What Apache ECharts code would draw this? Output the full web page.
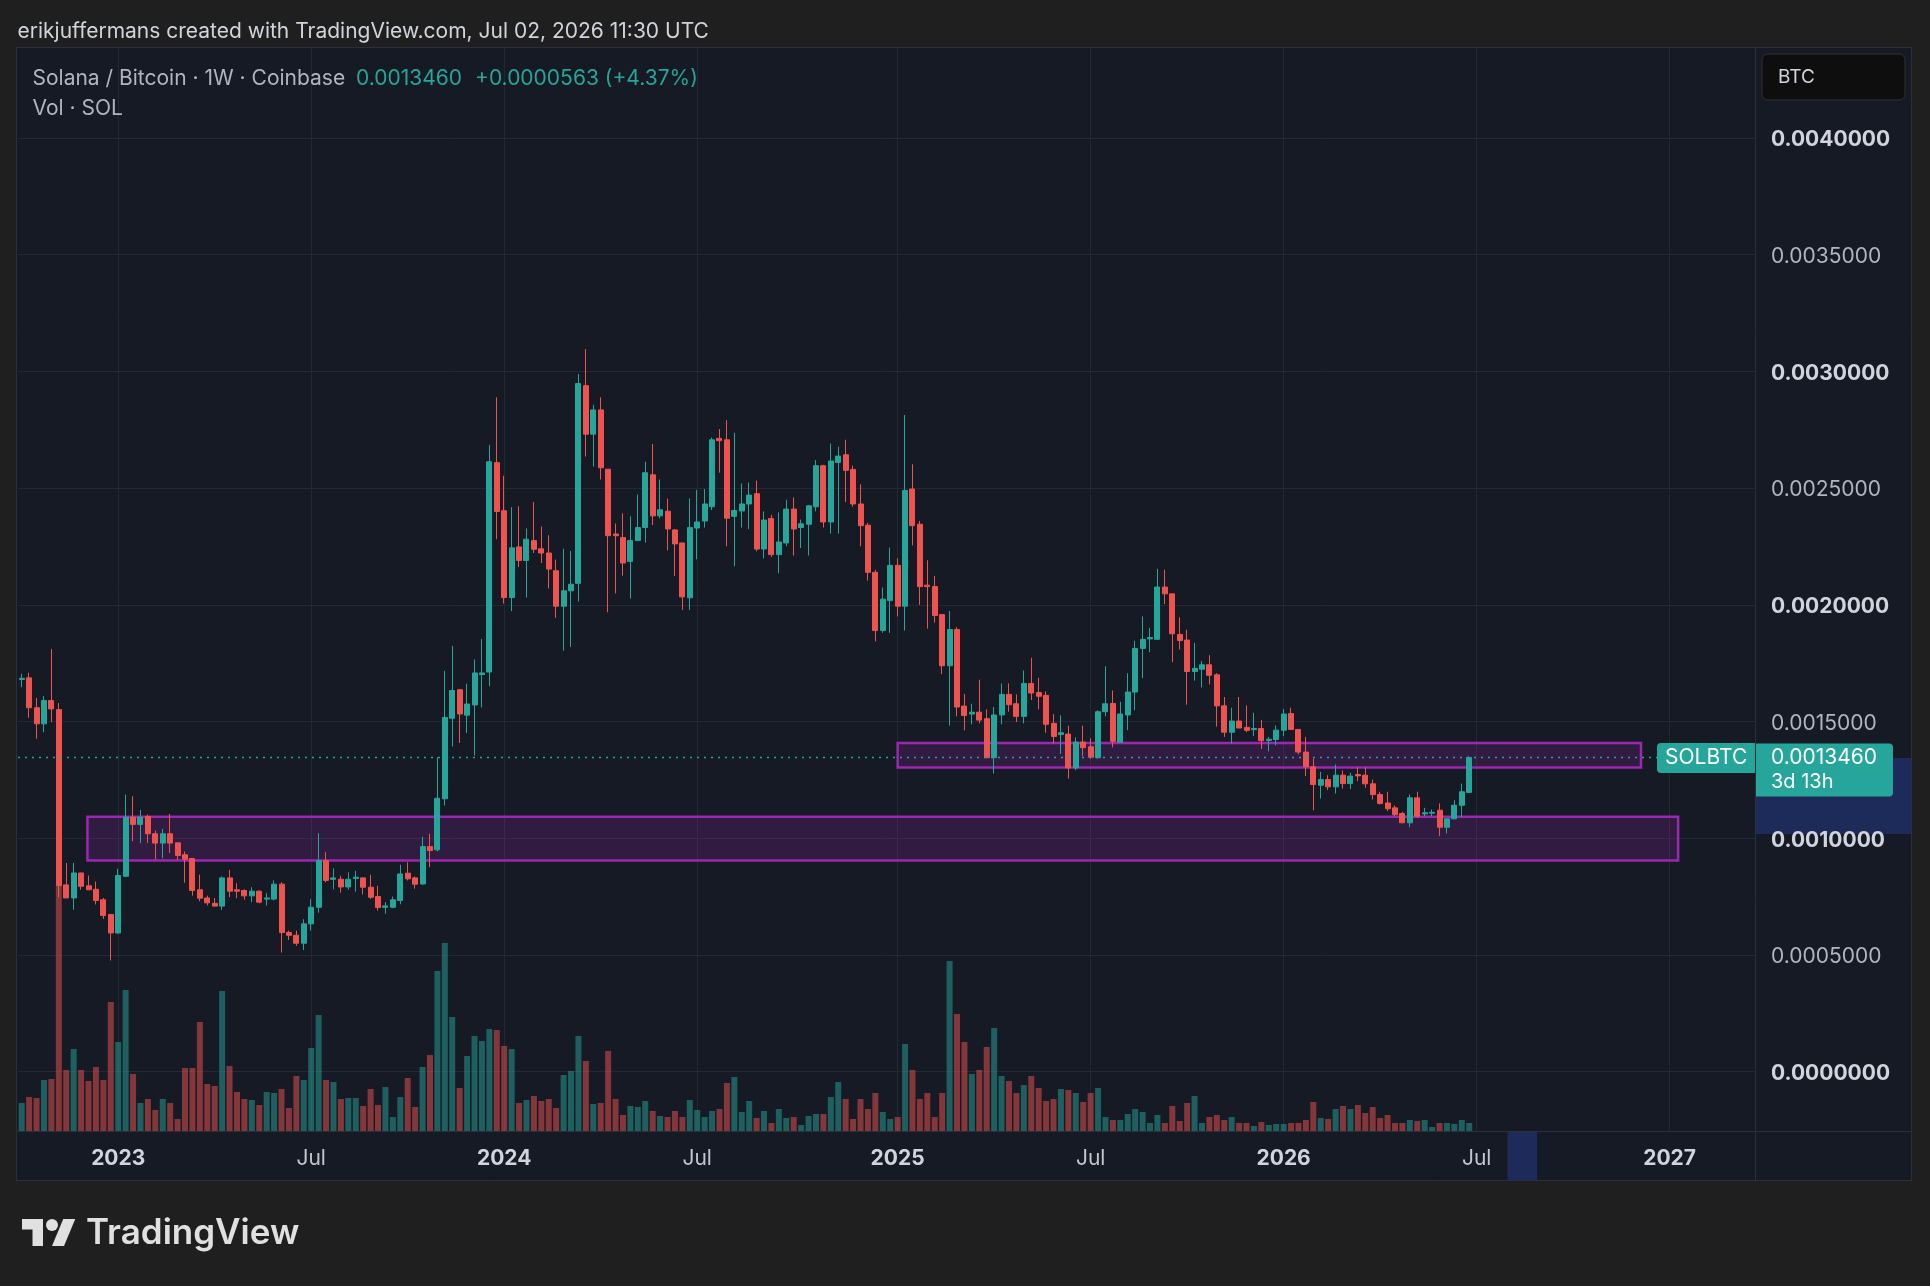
<!DOCTYPE html>
<html lang="en">
  <head>
    <meta charset="UTF-8" />
    <title>Solana / Bitcoin 1W</title>
    <script src="https://cdn.jsdelivr.net/npm/echarts@6/dist/echarts.min.js"></script>
    <style>
      html, body { margin: 0; padding: 0; background: #1f1f1f; }
      #chart { width: 1930px; height: 1286px; }
    </style>
  </head>
  <body>
    <div id="chart"></div>
    <script>
      // weekly SOL/BTC candles, prices in µBTC: [open, high, low, close]
      const candles2022 = [
        [1680,1704,1647,1685],[1687,1709,1516,1559],[1559,1601,1426,1490],[1490,1609,1454,1590],
        [1590,1811,1497,1554],[1551,1579,747,797],[800,894,744,744],[744,894,693,851],
        [851,851,779,794],[796,840,779,779],[781,814,716,733],[736,744,654,669],[673,676,476,594]
      ];
      const candles2023 = [
        [594,869,590,840],[837,1187,833,1090],[1090,1180,987,1059],[1059,1121,979,1090],
        [1093,1101,979,1019],[1019,1033,909,979],[979,1040,914,1019],[1019,1104,937,979],
        [980,980,907,926],[929,943,809,910],[913,913,754,776],[779,844,730,743],
        [744,754,712,723],[721,744,709,709],[709,836,693,830],[830,864,747,773],
        [779,807,743,773],[776,781,737,753],[753,790,726,773],[773,776,721,726],
        [739,764,711,744],[739,819,733,803],[803,811,510,596],[596,604,564,584],
        [584,604,539,550],[550,653,521,633],[633,739,604,704],[704,1021,681,904],
        [904,940,811,819],[824,871,781,830],[824,839,767,791],[791,854,779,824],
        [827,860,771,833],[830,833,759,790],[790,843,740,747],[750,796,690,703],
        [704,726,676,710],[704,750,700,736],[733,886,717,847],[850,897,819,826],
        [830,836,784,803],[804,1006,800,964],[964,1019,876,947],[950,1347,943,1171],
        [1169,1717,1140,1517],[1514,1824,1393,1633],[1636,1640,1408,1532],[1527,1662,1451,1575],
        [1571,1766,1354,1708],[1701,1853,1560,1708],[1712,2685,1651,2613],[2609,2889,2281,2400]
      ];
      const candles2024 = [
        [2403,2553,2005,2031],[2031,2418,1973,2244],[2248,2422,2162,2190],[2190,2327,2031,2281],
        [2275,2440,2222,2238],[2240,2335,2179,2222],[2222,2298,2070,2153],[2146,2194,1944,1994],
        [1994,2240,1803,2060],[2060,2231,1820,2088],[2092,2989,2014,2948],[2939,3096,2635,2731],
        [2731,2857,2592,2835],[2835,2889,2537,2587],[2581,2581,1968,2296],[2303,2348,2049,2296],
        [2288,2392,2125,2179],[2186,2379,2027,2275],[2275,2472,2275,2331],[2331,2613,2266,2566],
        [2557,2689,2342,2381],[2381,2537,2370,2407],[2401,2455,2233,2325],[2321,2325,2124,2261],
        [2265,2265,1978,2034],[2030,2456,1978,2331],[2329,2492,2195,2355],[2359,2496,2331,2432],
        [2420,2717,2406,2707],[2713,2753,2566,2703],[2707,2791,2251,2371],[2379,2737,2165,2404],
        [2402,2520,2331,2432],[2432,2524,2325,2470],[2476,2532,2229,2239],[2239,2400,2199,2363],
        [2370,2386,2205,2215],[2215,2396,2135,2269],[2265,2450,2251,2410],[2410,2460,2211,2325],
        [2331,2365,2243,2347],[2345,2428,2211,2424],[2420,2620,2400,2596],[2596,2600,2331,2355],
        [2355,2691,2305,2616],[2610,2677,2305,2637],[2643,2707,2440,2576],[2580,2596,2420,2432],
        [2432,2516,2251,2339],[2341,2351,2104,2139],[2139,2150,1843,1890],[1890,2074,1880,2024],
        [2018,2245,1880,2169]
      ];
      const candles2025 = [
        [2169,2199,1950,1994],[1994,2813,1890,2490],[2496,2602,2255,2339],[2345,2359,2000,2078],
        [2084,2191,1898,2078],[2078,2124,1924,1954],[1958,1958,1703,1739],[1739,1974,1482,1894],
        [1894,1904,1522,1562],[1566,1618,1462,1526],[1532,1576,1488,1540],[1540,1679,1492,1506],
        [1512,1552,1345,1345],[1345,1562,1277,1528],[1528,1663,1488,1616],[1616,1663,1542,1572],
        [1576,1616,1498,1522],[1522,1719,1492,1663],[1663,1773,1592,1622],[1624,1687,1552,1608],
        [1612,1629,1452,1488],[1492,1532,1406,1436],[1444,1526,1361,1452],[1446,1482,1255,1301],
        [1301,1432,1291,1412],[1412,1482,1351,1388],[1392,1428,1341,1347],[1345,1548,1341,1542],
        [1542,1737,1522,1576],[1577,1633,1389,1415],[1411,1584,1411,1532],[1528,1707,1463,1626],
        [1626,1846,1548,1813],[1813,1950,1686,1852],[1854,1901,1797,1860],[1852,2154,1852,2076],
        [2076,2150,2003,2047],[2047,2047,1754,1876],[1873,1946,1808,1847],[1849,1893,1572,1714],
        [1714,1837,1675,1727],[1724,1759,1646,1743],[1743,1784,1659,1698],[1700,1707,1478,1567],
        [1567,1605,1434,1454],[1454,1559,1406,1502],[1502,1605,1472,1472],[1475,1569,1454,1462],
        [1465,1537,1437,1470],[1470,1507,1382,1418],[1419,1434,1372,1424],[1423,1483,1398,1463]
      ];
      const candles2026 = [
        [1463,1553,1437,1532],[1534,1559,1466,1466],[1466,1466,1359,1369],[1369,1434,1266,1306],
        [1306,1341,1120,1230],[1227,1284,1170,1251],[1251,1270,1206,1220],[1220,1316,1191,1270],
        [1270,1290,1213,1234],[1234,1280,1211,1266],[1273,1304,1244,1267],[1270,1304,1216,1233],
        [1233,1251,1166,1187],[1187,1199,1144,1149],[1151,1199,1116,1126],[1130,1140,1094,1101],
        [1106,1113,1066,1066],[1066,1187,1047,1173],[1173,1199,1087,1094],[1104,1130,1094,1109],
        [1107,1123,1094,1111],[1120,1149,1009,1047],[1047,1083,1020,1083],[1083,1163,1083,1141],
        [1141,1234,1091,1199],[1196,1351,1194,1346]
      ];

      // weekly volume, relative units
      const volume2022 = [28,34,33,51,52,246,61,82,61,50,64,51,129];
      const volume2023 = [89,141,57,28,32,21,32,28,12,63,63,109,47,45,140,65,39,32,31,26,
        39,38,42,23,55,51,83,116,51,49,32,33,33,25,42,26,44,14,34,53,24,64,76,160,188,114,
        43,75,95,90,102,101];
      const volume2024 = [85,82,28,31,35,30,32,23,56,60,95,70,27,28,80,32,16,25,24,30,20,15,
        14,20,14,31,21,14,20,22,48,54,19,30,13,20,8,22,13,14,6,15,17,17,34,49,32,12,32,22,38,19,12];
      const volume2025 = [14,87,61,32,38,14,38,170,117,89,57,61,84,103,55,50,38,46,55,43,30,
        32,42,41,38,29,38,43,14,11,11,17,22,19,8,16,8,25,10,28,35,8,14,16,11,14,8,8,5,9,6,7];
      const volume2026 = [7,8,8,11,29,13,12,22,25,22,26,18,24,13,16,8,8,11,10,11,4,8,8,7,11,8];

      const firstWeek = '2022-10-03';
      const weekSlots = 234; // visible weekly slots incl. empty future space

      const timeTicks = ['2023-01-02','2023-07-03','2024-01-01','2024-07-01','2025-01-06',
        '2025-07-07','2026-01-05','2026-07-06','2027-01-04'];
      const timeTickLabels = ['2023','Jul','2024','Jul','2025','Jul','2026','Jul','2027'];
      const priceTicks = [0, 0.0005, 0.001, 0.0015, 0.002, 0.0025, 0.003, 0.0035, 0.004];

      // drawn rectangles (support / resistance zones)
      const zones = [
        { from: '2022-12-04', to: '2027-01-12', top: 0.001092, bottom: 0.000904 },
        { from: '2025-01-06', to: '2026-12-08', top: 0.001408, bottom: 0.001303 }
      ];
      const lastPrice = 0.001346;
      const priceHighlight = [0.001018, 0.001344];
      const timeHighlight = ['2026-08-04', '2026-09-01'];

      const UP = '#26a69a';
      const DOWN = '#ef5350';
      const GRID = '#242834';
      const FONT = 'Inter';

      // x axis counts weeks from firstWeek
      const WEEK = 7 * 24 * 3600 * 1000;
      const t0 = Date.parse(firstWeek);
      const weekOf = (d) => (Date.parse(d) - t0) / WEEK;
      const tickWeeks = timeTicks.map(weekOf);

      const candles = [].concat(candles2022, candles2023, candles2024, candles2025, candles2026);
      const volumes = [].concat(volume2022, volume2023, volume2024, volume2025, volume2026);

      const candleData = candles.map((c, i) => [i, c[0] / 1e6, c[3] / 1e6, c[2] / 1e6, c[1] / 1e6]);
      const volumeData = volumes.map((v, i) => ({
        value: [i, v],
        itemStyle: { color: candles[i][3] >= candles[i][0] ? 'rgba(38,166,154,0.5)' : 'rgba(239,83,80,0.5)' }
      }));

      const gridLeft = 18;
      const gridWidth = 1737;
      const gridTop = 48;
      const gridBottom = 1131;
      const yMin = -0.0002545;
      const yMax = 0.0043856;

      const chart = echarts.init(document.getElementById('chart'));

      chart.setOption({
        backgroundColor: '#161a25',
        animation: false,
        textStyle: { fontFamily: FONT },
        grid: [
          { left: gridLeft, width: gridWidth, top: gridTop, height: gridBottom - gridTop },
          { left: gridLeft, width: gridWidth, top: gridBottom - 300, height: 300 }
        ],
        xAxis: [
          {
            type: 'value',
            gridIndex: 0,
            min: -0.5,
            max: weekSlots - 0.5,
            axisLine: { show: false },
            axisTick: { show: false, customValues: tickWeeks },
            splitLine: { show: true, lineStyle: { color: GRID, width: 1 } },
            axisLabel: {
              customValues: tickWeeks,
              margin: 17,
              formatter: (v) => {
                const i = tickWeeks.indexOf(v);
                const txt = timeTickLabels[i] || '';
                return txt === 'Jul' ? '{m|' + txt + '}' : '{y|' + txt + '}';
              },
              rich: {
                y: { fontFamily: FONT, fontSize: 21, fontWeight: 'bold', color: '#d1d4dc', lineHeight: 22 },
                m: { fontFamily: FONT, fontSize: 21, color: '#c3c6cd', lineHeight: 22 }
              }
            }
          },
          { type: 'value', gridIndex: 1, min: -0.5, max: weekSlots - 0.5, show: false }
        ],
        yAxis: [
          {
            type: 'value',
            gridIndex: 0,
            position: 'right',
            min: yMin,
            max: yMax,
            axisLine: { show: false },
            axisTick: { show: false, customValues: priceTicks },
            splitLine: { show: true, lineStyle: { color: GRID, width: 1 } },
            axisLabel: {
              customValues: priceTicks,
              margin: 16,
              padding: [4, 0, 0, 0],
              formatter: (v) => {
                const bold = Math.round(v * 10000) % 10 === 0;
                return (bold ? '{b|' : '{n|') + v.toFixed(7) + '}';
              },
              rich: {
                b: { fontFamily: FONT, fontSize: 21, fontWeight: 'bold', color: '#d1d4dc' },
                n: { fontFamily: FONT, fontSize: 21, color: '#b2b5be' }
              }
            }
          },
          { type: 'value', gridIndex: 1, min: 0, max: 300, show: false }
        ],
        series: [
          {
            type: 'bar',
            xAxisIndex: 1,
            yAxisIndex: 1,
            data: volumeData,
            barWidth: 6,
            z: 1
          },
          {
            type: 'candlestick',
            xAxisIndex: 0,
            yAxisIndex: 0,
            data: candleData,
            barWidth: 5.5,
            z: 3,
            itemStyle: {
              color: UP,
              color0: DOWN,
              borderColor: UP,
              borderColor0: DOWN,
              borderWidth: 1
            },
            markArea: {
              silent: true,
              itemStyle: { color: 'rgba(156,39,176,0.2)', borderColor: '#9c27b0', borderWidth: 2.5 },
              data: zones.map((zn) => [
                { xAxis: weekOf(zn.from), yAxis: zn.top },
                { xAxis: weekOf(zn.to), yAxis: zn.bottom }
              ])
            }
          }
        ]
      });

      // overlay: frame, header texts, last price line and badges, logo
      const py = (p) => chart.convertToPixel({ yAxisIndex: 0 }, p);
      const tx = (d) => chart.convertToPixel({ xAxisIndex: 0 }, weekOf(d));
      const lastY = Math.round(py(lastPrice)) + 0.5;
      const axisX = gridLeft + gridWidth;
      const outer = '#1f1f1f';
      const s = 1.5; // logo scale
      const lx = 22, ly = 1219 - 4 * s;
      const pts = (arr) => arr.map((p) => [lx + p[0] * s, ly + p[1] * s]);
      const headFont = '21px ' + FONT;

      chart.setOption({
        graphic: [
          // outer page around the chart panel
          { type: 'rect', shape: { x: 0, y: 0, width: 1930, height: 47 }, style: { fill: outer }, z: 50 },
          { type: 'rect', shape: { x: 0, y: 1181, width: 1930, height: 105 }, style: { fill: outer }, z: 50 },
          { type: 'rect', shape: { x: 0, y: 0, width: 16, height: 1286 }, style: { fill: outer }, z: 50 },
          { type: 'rect', shape: { x: 1912, y: 0, width: 18, height: 1286 }, style: { fill: outer }, z: 50 },
          { type: 'rect', shape: { x: 16.5, y: 47.5, width: 1895, height: 1133 }, style: { fill: null, stroke: '#2b2f3a', lineWidth: 1 }, z: 51 },
          { type: 'line', shape: { x1: axisX + 0.5, y1: 47, x2: axisX + 0.5, y2: 1181 }, style: { stroke: '#2b2f3a', lineWidth: 1 }, z: 51 },
          { type: 'line', shape: { x1: 16, y1: gridBottom + 0.5, x2: 1912, y2: gridBottom + 0.5 }, style: { stroke: '#2b2f3a', lineWidth: 1 }, z: 51 },

          // highlighted ranges on the scales
          { type: 'rect', shape: { x: axisX + 1, y: py(priceHighlight[1]), width: 1911 - axisX - 1, height: py(priceHighlight[0]) - py(priceHighlight[1]) }, style: { fill: '#1c2b5a' }, z: -5 },
          { type: 'rect', shape: { x: tx(timeHighlight[0]), y: gridBottom + 1, width: tx(timeHighlight[1]) - tx(timeHighlight[0]), height: 49 }, style: { fill: '#1c2b5a' }, z: -5 },

          // dotted last price line
          { type: 'line', shape: { x1: gridLeft, y1: lastY, x2: axisX, y2: lastY }, style: { stroke: UP, lineWidth: 1.5, lineDash: [2, 5] }, z: 10 },

          // header
          { type: 'text', x: 17.5, y: 31.5, style: { text: 'erikjuffermans created with TradingView.com, Jul 02, 2026 11:30 UTC', fill: '#d1d4dc', font: headFont, verticalAlign: 'middle' }, z: 60 },
          { type: 'text', x: 32.5, y: 79, style: { text: 'Solana / Bitcoin · 1W · Coinbase', fill: '#b2b5be', font: headFont, verticalAlign: 'middle' }, z: 60 },
          { type: 'text', x: 356, y: 79, style: { text: '0.0013460', fill: UP, font: headFont, verticalAlign: 'middle' }, z: 60 },
          { type: 'text', x: 475, y: 79, style: { text: '+0.0000563 (+4.37%)', fill: UP, font: headFont, verticalAlign: 'middle' }, z: 60 },
          { type: 'text', x: 32.5, y: 108.5, style: { text: 'Vol · SOL', fill: '#b2b5be', font: headFont, verticalAlign: 'middle' }, z: 60 },

          // currency box
          { type: 'rect', shape: { x: 1762, y: 54, width: 143, height: 46, r: 6 }, style: { fill: '#0e0e0f', stroke: '#303030', lineWidth: 1 }, z: 60 },
          { type: 'text', x: 1778, y: 77, style: { text: 'BTC', fill: '#d1d4dc', font: '19px ' + FONT, verticalAlign: 'middle' }, z: 61 },

          // last price badges
          { type: 'rect', shape: { x: 1657, y: lastY - 14.5, width: axisX - 1657, height: 30, r: [4, 0, 0, 4] }, style: { fill: UP }, z: 60 },
          { type: 'text', x: 1665, y: lastY + 0.5, style: { text: 'SOLBTC', fill: '#ffffff', font: '21px ' + FONT, verticalAlign: 'middle' }, z: 61 },
          { type: 'rect', shape: { x: axisX + 1, y: lastY - 14, width: 137, height: 53, r: [0, 4, 4, 0] }, style: { fill: UP }, z: 60 },
          { type: 'text', x: axisX + 16, y: lastY + 0.5, style: { text: '0.0013460', fill: '#ffffff', font: '21px ' + FONT, verticalAlign: 'middle' }, z: 61 },
          { type: 'text', x: axisX + 16, y: lastY + 24.5, style: { text: '3d 13h', fill: '#ffffff', font: '20px ' + FONT, verticalAlign: 'middle' }, z: 61 },

          // TradingView logo
          { type: 'polygon', shape: { points: pts([[0,4],[14,4],[14,22],[7,22],[7,11],[0,11]]) }, style: { fill: '#e0e0e0' }, z: 60 },
          { type: 'circle', shape: { cx: lx + 20 * s, cy: ly + 8 * s, r: 4 * s }, style: { fill: '#e0e0e0' }, z: 60 },
          { type: 'polygon', shape: { points: pts([[28,22],[20,22],[27.5,4],[35.5,4]]) }, style: { fill: '#e0e0e0' }, z: 60 },
          { type: 'text', x: 86, y: 1233, style: { text: 'TradingView', fill: '#e0e0e0', font: '600 35px ' + FONT, verticalAlign: 'middle' }, z: 60 }
        ]
      });
    </script>
  </body>
</html>
